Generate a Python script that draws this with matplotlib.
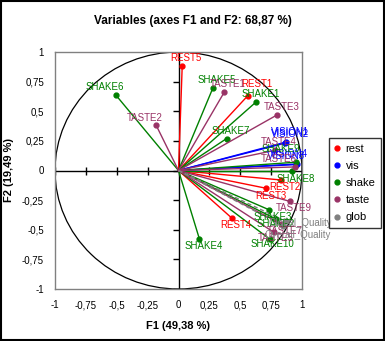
import matplotlib
matplotlib.use("Agg")
import matplotlib.pyplot as plt
from matplotlib.patches import Circle, Rectangle
from matplotlib.lines import Line2D

plt.rcParams['font.family'] = ['Liberation Sans', 'DejaVu Sans']

# correlations of the variables with F1 / F2
rest_names = ["REST1", "REST2", "REST3", "REST4", "REST5"]
rest_x = [0.56, 0.71, 0.83, 0.43, 0.03]
rest_y = [0.63, -0.15, -0.08, -0.40, 0.88]

vis_names = ["VISION1", "VISION2", "VISION3", "VISION4"]
vis_x = [0.86, 0.87, 0.95, 0.96]
vis_y = [0.23, 0.24, 0.05, 0.055]

shake_names = ["SHAKE1", "SHAKE2", "SHAKE3", "SHAKE4", "SHAKE5",
               "SHAKE6", "SHAKE7", "SHAKE8", "SHAKE9", "SHAKE10"]
shake_x = [0.63, 0.79, 0.73, 0.17, 0.28, -0.51, 0.39, 0.92, 0.95, 0.74]
shake_y = [0.58, -0.41, -0.33, -0.58, 0.70, 0.64, 0.27, 0.00, 0.07, -0.58]

taste_names = ["TASTE1", "TASTE2", "TASTE3", "TASTE4", "TASTE5",
               "TASTE6", "TASTE7", "TASTE9"]
taste_x = [0.37, -0.18, 0.80, 0.78, 0.77, 0.94, 0.83, 0.90]
taste_y = [0.66, 0.38, 0.47, 0.17, -0.52, 0.03, -0.45, -0.26]

glob_names = ["Global_Quality", "Overall_Quality"]
glob_x = [0.87, 0.85]
glob_y = [-0.43, -0.47]

ticks = [-1, -0.75, -0.5, -0.25, 0, 0.25, 0.5, 0.75, 1]
tick_labels = ["-1", "-0,75", "-0,5", "-0,25", "0", "0,25", "0,5", "0,75", "1"]

groups = [
    ("rest", rest_names, rest_x, rest_y, "#ff0000", "-"),
    ("vis", vis_names, vis_x, vis_y, "#0000ff", "-"),
    ("shake", shake_names, shake_x, shake_y, "#008000", "-"),
    ("taste", taste_names, taste_x, taste_y, "#993366", "-"),
    ("glob", glob_names, glob_x, glob_y, "#808080", "--"),
]

# label offsets (pixels) that differ from the default above/below
label_shift = {
    "REST2": (19, 1), "REST3": (-10, -16), "REST1": (9, 12),
    "SHAKE6": (-11, 8), "TASTE2": (-12, 7), "VISION1": (5, 11),
    "SHAKE2": (0, -5), "SHAKE10": (3, -5), "TASTE5": (2, -6),
    "VISION3": (-10, 9), "VISION4": (-8, 10), "SHAKE9": (-15, 13),
    "TASTE6": (-16, 8), "SHAKE8": (4, -9),
    "Global_Quality": (14, -2), "Overall_Quality": (14, -9),
}

fig = plt.figure(figsize=(3.85, 3.41), dpi=100)
ax = fig.add_axes([55 / 385, 1 - 289 / 341, 247 / 385, 237 / 341])
ax.set_xlim(-1, 1)
ax.set_ylim(-1, 1)
for s in ax.spines.values():
    s.set_color("#808080")
    s.set_linewidth(1)

ax.set_xticks(ticks)
ax.set_xticklabels(tick_labels)
ax.set_yticks(ticks)
ax.set_yticklabels(tick_labels)
ax.tick_params(length=0, labelsize=7, pad=8)

ax.add_patch(Circle((0, 0), 1, fill=False, ec="black", lw=0.9))
ax.axhline(0, color="black", lw=1)
ax.axvline(0, color="black", lw=1)
ax.plot(ticks, [0] * len(ticks), ls="none", marker="|", ms=6, color="black", mew=1)
ax.plot([0] * len(ticks), ticks, ls="none", marker=0, ms=4, color="black", mew=1)

handles = []
for name, labels, xs, ys, col, ls in groups:
    for lab, x, y in zip(labels, xs, ys):
        ax.plot([0, x], [0, y], color=col, lw=1, ls=ls, dashes=(3, 2) if ls == "--" else (None, None))
        off = label_shift.get(lab, (4, 8) if y > 0 else (4, -7))
        ax.annotate(lab, (x, y), xytext=off, textcoords="offset pixels",
                    ha="center", va="center", fontsize=7, color=col)
    ax.plot(xs, ys, ls="none", marker="o", ms=3.5, color=col)
    handles.append(Line2D([], [], ls="none", marker="o", ms=3.5, color=col))

leg = fig.legend(handles, [g[0] for g in groups], loc="upper left",
                 bbox_to_anchor=(329 / 385, 1 - 138 / 341), fontsize=8,
                 frameon=True, fancybox=False, edgecolor="black",
                 handlelength=0.5, handletextpad=0.5, labelspacing=0.65,
                 borderpad=0.5, borderaxespad=0)
leg.get_frame().set_linewidth(1)

fig.text(0.5, 1 - 21 / 341, "Variables (axes F1 and F2: 68,87 %)",
         ha="center", va="center", fontsize=8.5, fontweight="bold")
ax.set_xlabel("F1 (49,38 %)", fontsize=8, fontweight="bold", labelpad=8)
ax.set_ylabel("F2 (19,49 %)", fontsize=8, fontweight="bold", labelpad=6)

fig.patches.append(Rectangle((0.002, 0.002), 0.996, 0.996, transform=fig.transFigure,
                             fill=False, ec="black", lw=1.5))

fig.savefig("out.png", dpi=100)
